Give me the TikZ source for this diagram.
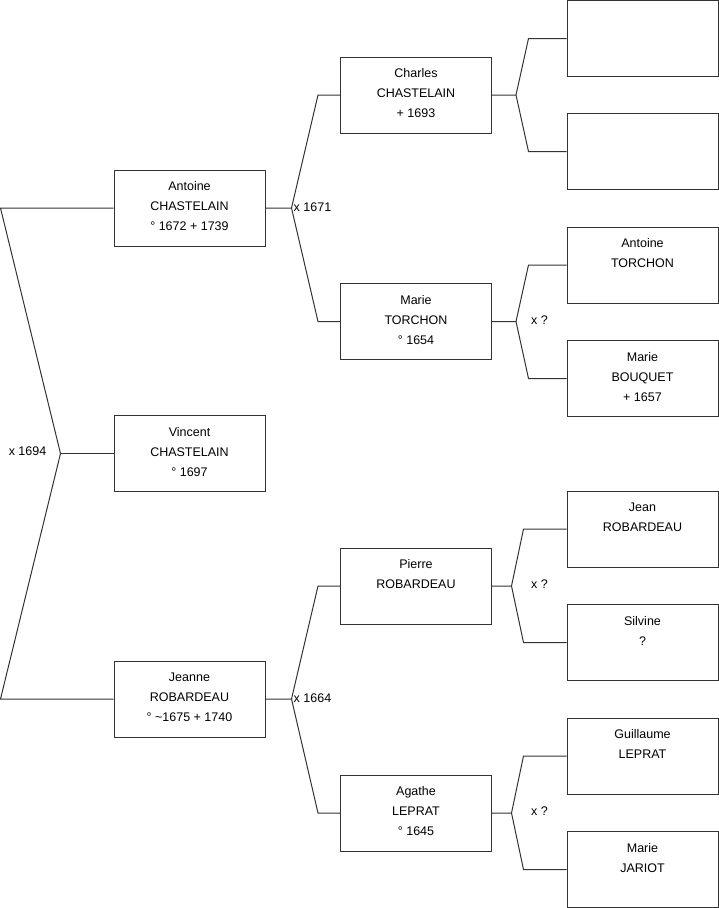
\documentclass[tikz,border=0pt]{standalone}
\usepackage{fontspec}
\setmainfont{Liberation Sans}
\definecolor{linegray}{HTML}{333333}
\newcommand{\persontext}[1]{\parbox[c][76pt][t]{151pt}{\centering\rule{0pt}{20.5pt}#1}}
\tikzset{
    person/.style={draw=linegray, line width=1pt, fill=white, rectangle, inner sep=0pt,
        minimum width=151pt, minimum height=76pt, font=\fontsize{12.5}{20}\selectfont},
    link/.style={draw=linegray, line width=1pt},
    union/.style={inner sep=0pt, font=\fontsize{12.5}{15}\selectfont}
}
\begin{document}
\begin{tikzpicture}[x=1pt, y=-1pt]
    \useasboundingbox (0,0) rectangle (719,908);
    %   Generation 1
    \node[person] (antoine) at (189.5,208) {\persontext{Antoine\\CHASTELAIN\\° 1672 + 1739}};
    \node[person] (vincent) at (189.5,453.5) {\persontext{Vincent\\CHASTELAIN\\° 1697}};
    \node[person] (jeanne) at (189.5,699) {\persontext{Jeanne\\ROBARDEAU\\° \textasciitilde1675 + 1740}};
    %   Generation 2
    \node[person] (charles) at (416,95) {\persontext{Charles\\CHASTELAIN\\+ 1693}};
    \node[person] (marieT) at (416,321.5) {\persontext{Marie\\TORCHON\\° 1654}};
    \node[person] (pierre) at (416,586) {\persontext{Pierre\\ROBARDEAU}};
    \node[person] (agathe) at (416,813) {\persontext{Agathe\\LEPRAT\\° 1645}};
    %   Generation 3
    \node[person] (emptyA) at (642.5,38.5) {\persontext{}};
    \node[person] (emptyB) at (642.5,151.5) {\persontext{}};
    \node[person] (antoineT) at (642.5,265) {\persontext{Antoine\\TORCHON}};
    \node[person] (marieB) at (642.5,378.5) {\persontext{Marie\\BOUQUET\\+ 1657}};
    \node[person] (jean) at (642.5,529) {\persontext{Jean\\ROBARDEAU}};
    \node[person] (silvine) at (642.5,642.5) {\persontext{Silvine\\?}};
    \node[person] (guillaume) at (642.5,756) {\persontext{Guillaume\\LEPRAT}};
    \node[person] (marieJ) at (642.5,869.5) {\persontext{Marie\\JARIOT}};

    %   Marriages
    \node[union, anchor=east] (m1694) at ([xshift=-67,yshift=2]vincent.west) {x 1694};
    \node[union, anchor=west] (m1671) at ([xshift=28,yshift=1]antoine.east) {x 1671};
    \node[union, anchor=west] (m1664) at ([xshift=28,yshift=1]jeanne.east) {x 1664};
    \node[union, anchor=west] (mTorchon) at ([xshift=39,yshift=1.5]marieT.east) {x ?};
    \node[union, anchor=west] (mRobardeau) at ([xshift=39,yshift=2]pierre.east) {x ?};
    \node[union, anchor=west] (mLeprat) at ([xshift=39,yshift=2]agathe.east) {x ?};

    %   Links to the parents of Vincent
    \draw[link] (antoine.west) -- ++(-113,0) -- ([xshift=-53]vincent.west)
        -- ([xshift=-113]jeanne.west) -- (jeanne.west);
    \draw[link] ([xshift=-53]vincent.west) -- (vincent.west);
    %   Links to generation 2
    \draw[link] (antoine.east) -- ++(26,0) -- ([xshift=-22]charles.west) -- (charles.west);
    \draw[link] ([xshift=26]antoine.east) -- ([xshift=-22]marieT.west) -- (marieT.west);
    \draw[link] (jeanne.east) -- ++(26,0) -- ([xshift=-22]pierre.west) -- (pierre.west);
    \draw[link] ([xshift=26]jeanne.east) -- ([xshift=-22]agathe.west) -- (agathe.west);
    %   Links to generation 3
    \draw[link] (charles.east) -- ++(24,0) -- ([xshift=-38]emptyA.west) -- (emptyA.west);
    \draw[link] ([xshift=24]charles.east) -- ([xshift=-38]emptyB.west) -- (emptyB.west);
    \draw[link] (marieT.east) -- ++(24,0) -- ([xshift=-38]antoineT.west) -- (antoineT.west);
    \draw[link] ([xshift=24]marieT.east) -- ([xshift=-38]marieB.west) -- (marieB.west);
    \draw[link] (pierre.east) -- ++(19.5,0) -- ([xshift=-43]jean.west) -- (jean.west);
    \draw[link] ([xshift=19.5]pierre.east) -- ([xshift=-43]silvine.west) -- (silvine.west);
    \draw[link] (agathe.east) -- ++(19.5,0) -- ([xshift=-43]guillaume.west) -- (guillaume.west);
    \draw[link] ([xshift=19.5]agathe.east) -- ([xshift=-43]marieJ.west) -- (marieJ.west);
\end{tikzpicture}
\end{document}
